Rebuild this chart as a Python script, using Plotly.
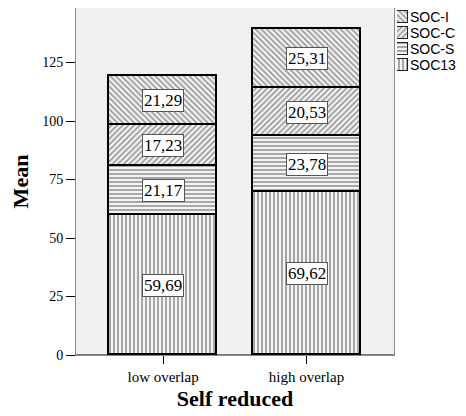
import plotly.graph_objects as go

categories = ["low overlap", "high overlap"]
series_names = ["SOC13", "SOC-S", "SOC-C", "SOC-I"]
soc13 = [59.69, 69.62]
soc_s = [21.17, 23.78]
soc_c = [17.23, 20.53]
soc_i = [21.29, 25.31]
label_text = {
    "SOC13": ["59,69", "69,62"],
    "SOC-S": ["21,17", "23,78"],
    "SOC-C": ["17,23", "20,53"],
    "SOC-I": ["21,29", "25,31"],
}
y_ticks = [0, 25, 50, 75, 100, 125]

values = [soc13, soc_s, soc_c, soc_i]
shapes_pat = ["|", "-", "/", "\\"]
legend_rows = [0, 1, 2, 3]  # SOC13 bottom row ... SOC-I top row

# page has an 8px body margin, so the figure is drawn 8px in from top-left
OFF = 8
W, H = 466 - OFF, 416 - OFF
L, R, T, B = 76 - OFF, 0, 8 - OFF, 416 - 355
plot_w = W - L - R
plot_h = H - T - B


def px_x(px):
    return (px - OFF - L) / plot_w


def px_y(py):
    return 1 - (py - OFF - T) / plot_h


def pattern(pat):
    return dict(shape=pat, fgcolor="#3a3a3a", bgcolor="#f4f4f4",
                size=4, solidity=0.42)


fig = go.Figure()
for name, vals, pat in zip(series_names, values, shapes_pat):
    fig.add_trace(go.Bar(
        x=categories, y=vals, name=name, width=0.753,
        marker=dict(color="white", line=dict(color="black", width=1.6),
                    pattern=pattern(pat)),
        showlegend=False, xaxis="x", yaxis="y",
    ))

# legend swatches drawn as tiny bars on their own axis
for name, pat, row in zip(series_names, shapes_pat, legend_rows):
    fig.add_trace(go.Bar(
        x=[1], y=[row], orientation="h", width=0.69, name=name,
        marker=dict(color="white", line=dict(color="#222222", width=1),
                    pattern=pattern(pat)),
        showlegend=False, xaxis="x2", yaxis="y2", hoverinfo="skip",
    ))

annotations = []
base = [0.0, 0.0]
for name, vals in zip(series_names, values):
    for i, c in enumerate(categories):
        annotations.append(dict(
            x=c, y=base[i] + vals[i] / 2, xref="x", yref="y",
            text=label_text[name][i], showarrow=False,
            font=dict(family="Liberation Serif", size=17, color="black"),
            bgcolor="white", bordercolor="#555555", borderwidth=1, borderpad=1,
        ))
        base[i] += vals[i]

for name, row in zip(series_names, legend_rows):
    annotations.append(dict(
        x=px_x(408), y=row, xref="paper", yref="y2", xanchor="left",
        text=name, showarrow=False,
        font=dict(family="Liberation Sans", size=14, color="black"),
    ))

fig.update_layout(
    width=W, height=H,
    margin=dict(l=L, r=R, t=T, b=B, autoexpand=False),
    barmode="stack",
    bargap=0,
    paper_bgcolor="white",
    plot_bgcolor="#f0f0f0",
    showlegend=False,
    annotations=annotations,
    font=dict(family="Liberation Serif", color="black"),
    shapes=[
        dict(type="rect", xref="x2", yref="y2", x0=-1, x1=2, y0=-1, y1=4,
             fillcolor="white", line=dict(width=0), layer="below"),
        dict(type="line", xref="x", yref="y", x0=-0.607, x1=1.61, y0=0, y1=0,
             line=dict(color="black", width=1.2)),
    ],
    xaxis=dict(
        domain=[0, px_x(394)],
        range=[-0.607, 1.61],
        showline=True, linecolor="#888888", linewidth=1, mirror=True,
        ticks="outside", ticklen=8, tickcolor="black",
        tickfont=dict(family="Liberation Serif", size=15, color="black"),
        title=dict(text="<b>Self reduced</b>",
                   font=dict(family="Liberation Serif", size=22, color="black"),
                   standoff=6),
        showgrid=False,
    ),
    yaxis=dict(
        domain=[0, 1],
        range=[0, 148.3],
        tickvals=y_ticks,
        showline=True, linecolor="#888888", linewidth=1, mirror=True,
        ticks="outside", ticklen=9, tickcolor="black",
        tickfont=dict(family="Liberation Serif", size=14, color="black"),
        title=dict(text="<b>Mean</b>",
                   font=dict(family="Liberation Serif", size=22, color="black"),
                   standoff=14),
        showgrid=False, zeroline=False,
    ),
    xaxis2=dict(
        domain=[px_x(397), px_x(408)], range=[0, 1], anchor="y2",
        showline=False, showgrid=False, zeroline=False, showticklabels=False,
        ticks="", fixedrange=True,
    ),
    yaxis2=dict(
        domain=[px_y(73), px_y(9)], range=[-0.5, 3.5], anchor="x2",
        showline=False, showgrid=False, zeroline=False, showticklabels=False,
        ticks="", fixedrange=True,
    ),
)
fig.write_html("out.html")
